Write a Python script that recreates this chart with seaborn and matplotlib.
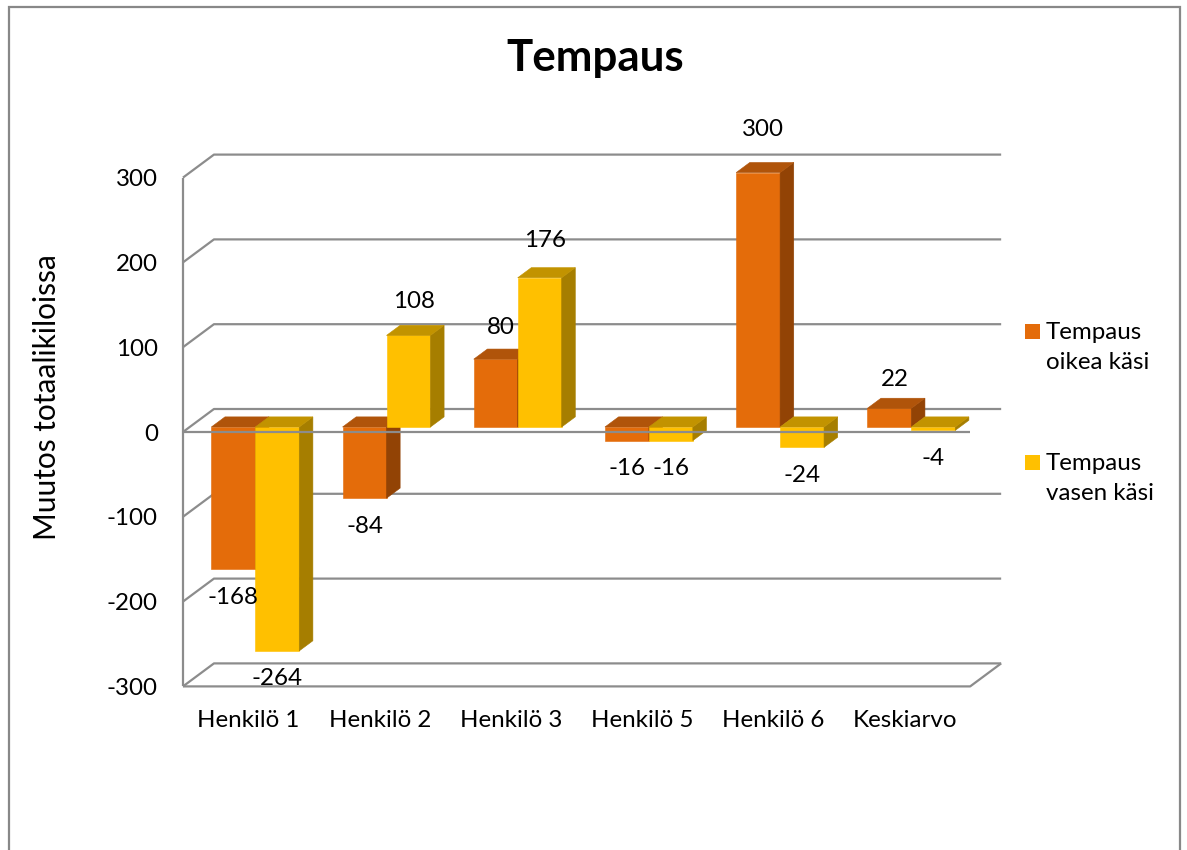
import numpy as np
import pandas as pd
import matplotlib
matplotlib.use("Agg")
import matplotlib.pyplot as plt
from matplotlib.patches import Polygon, Rectangle
import seaborn as sns

# ---- data ----
categories = ["Henkilö 1", "Henkilö 2", "Henkilö 3", "Henkilö 5", "Henkilö 6", "Keskiarvo"]
series_names = ["Tempaus\noikea käsi", "Tempaus\nvasen käsi"]
right_hand = [-168, -84, 80, -16, 300, 22]
left_hand = [-264, 108, 176, -16, -24, -4]
y_ticks = [-300, -200, -100, 0, 100, 200, 300]
title = "Tempaus"
y_label = "Muutos totaalikiloissa"

front_colors = ["#E46C0A", "#FFC000"]
top_colors = ["#B0540A", "#C29300"]
side_colors = ["#924305", "#A67E00"]
grid_color = "#8C8C8C"

df = pd.DataFrame({
    "Henkilö": categories * 2,
    "Muutos": right_hand + left_hand,
    "Sarja": [series_names[0]] * len(categories) + [series_names[1]] * len(categories),
})

sns.set_theme(style="white")
plt.rcParams["font.family"] = ["Lato", "DejaVu Sans"]

FS = 17.4

W, H = 1187, 850
fig = plt.figure(figsize=(W / 100, H / 100), dpi=100)

# pixel geometry of the bar plane
px_per_cat = 131.2
px_per_unit = 0.848
x0_px = 255.3
y0_px = 427.0
xlim = (-0.6, 5.9)
ylim = (-330, 340)
left_px = x0_px + xlim[0] * px_per_cat
right_px = x0_px + xlim[1] * px_per_cat
bottom_px = y0_px - ylim[0] * px_per_unit
top_px = y0_px - ylim[1] * px_per_unit
ax = fig.add_axes([left_px / W, 1 - bottom_px / H,
                   (right_px - left_px) / W, (bottom_px - top_px) / H])

# oblique depth projection (depth 0 = front wall, 1 = back wall)
KX = 31 / px_per_cat
KY = 23 / px_per_unit
F0 = 5 / 23          # depth of the bar front faces
BAR_DEPTH = 0.44


def proj(c, v, d):
    return c + KX * (d - F0), v + KY * (d - F0)


sns.barplot(data=df, x="Henkilö", y="Muutos", hue="Sarja", order=categories,
            hue_order=series_names, palette=front_colors, width=0.67, gap=0,
            linewidth=0, saturation=1, legend=False, ax=ax)

ax.set_xlim(*xlim)
ax.set_ylim(*ylim)
for s in ax.spines.values():
    s.set_visible(False)
ax.grid(False)
ax.set_facecolor("none")

line_kw = dict(color=grid_color, lw=1.6, solid_capstyle="butt", clip_on=False)

# side wall and back wall gridlines
for v in y_ticks:
    xa, ya = proj(-0.5, v, 0)
    xb, yb = proj(-0.5, v, 1)
    xc, yc = proj(5.5, v, 1)
    ax.plot([xa, xb, xc], [ya, yb, yc], zorder=1, **line_kw)

# front vertical axis
xa, ya = proj(-0.5, y_ticks[0], 0)
xb, yb = proj(-0.5, y_ticks[-1], 0)
ax.plot([xa, xb], [ya, yb], zorder=1, **line_kw)

# floor front and right edges
xa, ya = proj(-0.5, y_ticks[0], 0)
xb, yb = proj(5.5, y_ticks[0], 0)
xc, yc = proj(5.5, y_ticks[0], 1)
ax.plot([xa, xb, xc], [ya, yb, yc], zorder=1, **line_kw)

# front zero line passes over the bars
xa, ya = proj(-0.5, 0, 0)
xb, yb = proj(5.5, 0, 0)
ax.plot([xa, xb], [ya, yb], zorder=20, **line_kw)

# 3D faces for each bar + value labels
values_by_series = [right_hand, left_hand]
bars = list(ax.patches)
n = len(categories)
for idx, p in enumerate(bars):
    hue_i = idx // n
    cat_i = idx % n
    val = values_by_series[hue_i][cat_i]
    z = 3 + 0.01 * (2 * cat_i + hue_i)
    p.set_zorder(z)
    p.set_edgecolor(front_colors[hue_i])
    p.set_linewidth(0.4)
    bx = p.get_x()
    bw = p.get_width()
    lo = min(p.get_y(), p.get_y() + p.get_height())
    hi = max(p.get_y(), p.get_y() + p.get_height())
    ddx, ddy = KX * BAR_DEPTH, KY * BAR_DEPTH
    top = Polygon([(bx, hi), (bx + bw, hi), (bx + bw + ddx, hi + ddy), (bx + ddx, hi + ddy)],
                  closed=True, facecolor=top_colors[hue_i], edgecolor=top_colors[hue_i],
                  lw=0.4, zorder=z)
    side = Polygon([(bx + bw, lo), (bx + bw, hi), (bx + bw + ddx, hi + ddy), (bx + bw + ddx, lo + ddy)],
                   closed=True, facecolor=side_colors[hue_i], edgecolor=side_colors[hue_i],
                   lw=0.4, zorder=z)
    ax.add_patch(side)
    ax.add_patch(top)

    xc = bx + bw / 2
    if val >= 0:
        ax.text(xc + 0.04, val * 1.06 + 33, f"{val}", ha="center", va="center",
                fontsize=FS, color="black", zorder=30)
    else:
        ax.text(xc, val - 33, f"{val}", ha="center", va="center",
                fontsize=FS, color="black", zorder=30)

# tick labels on the front plane
front_x = [proj(i, 0, 0)[0] for i in range(n)]
ax.set_xticks(front_x, categories)
front_y = [proj(0, v, 0)[1] for v in y_ticks]
ax.set_yticks(front_y, [str(v) for v in y_ticks])
ax.tick_params(axis="x", length=0, pad=2.5, labelsize=FS, labelcolor="black")
ax.tick_params(axis="y", length=0, pad=13.5, labelsize=FS, labelcolor="black")
ax.set_xlabel("")
ax.set_ylabel("")

# axis title
fig.text(47 / W, 1 - 397 / H, y_label, rotation=90, ha="center", va="center",
         fontsize=21.5, color="black")

# title
fig.text(595 / W, 1 - 58 / H, title, ha="center", va="center",
         fontsize=31.6, fontweight="bold", color="black")

# legend
legend_items = [(series_names[0], front_colors[0], 324), (series_names[1], front_colors[1], 455)]
for label, color, ytop in legend_items:
    fig.patches.append(Rectangle((1025 / W, 1 - (ytop + 15) / H), 15 / W, 15 / H,
                                 transform=fig.transFigure, facecolor=color,
                                 edgecolor="none"))
    fig.text(1046 / W, 1 - (ytop - 2) / H, label, ha="left", va="top",
             fontsize=FS, color="black", linespacing=1.5)

# chart area border
fig.patches.append(Rectangle((9.5 / W, -0.05), (1179.5 - 9.5) / W, 1.05 - 7.5 / H,
                             transform=fig.transFigure, facecolor="none",
                             edgecolor="#888888", lw=1.6))

fig.savefig("out.png", dpi=100)
